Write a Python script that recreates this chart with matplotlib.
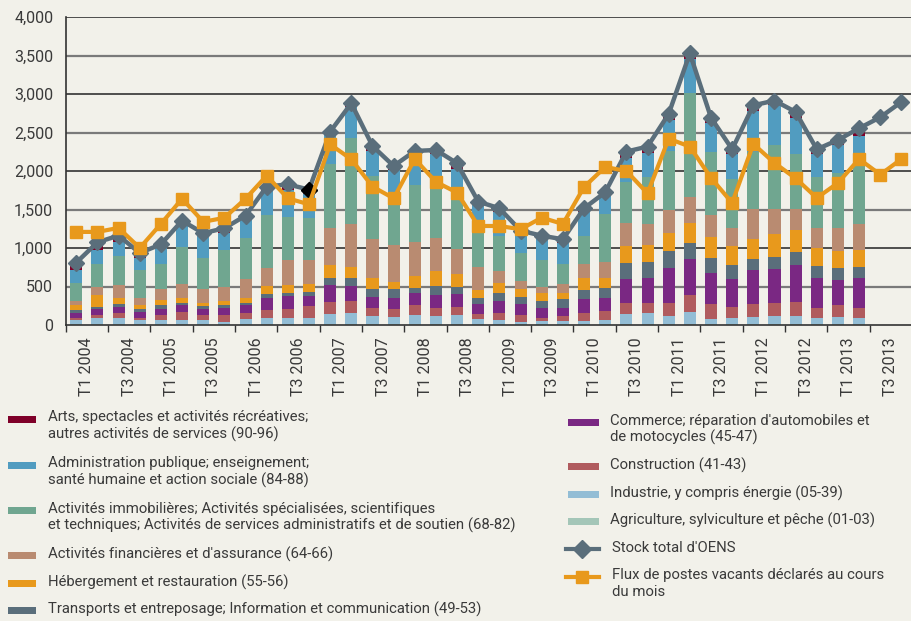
import matplotlib
matplotlib.use("Agg")
import matplotlib.pyplot as plt
from matplotlib.patches import Rectangle
from matplotlib.lines import Line2D
import numpy as np

plt.rcParams['font.family'] = ['Roboto', 'DejaVu Sans']

years = list(range(2004, 2014))
quarters = [f"T{q} {y}" for y in years for q in (1, 2, 3, 4)]
tick_labels = [f"T{q} {y}" for y in years for q in (1, 3)]

agriculture = [8] * 38
industrie = [57, 83, 83, 57, 57, 57, 57, 31, 70, 83, 83, 83, 135, 148, 109, 96,
             122, 109, 122, 70, 57, 31, 44, 44, 44, 57, 135, 148, 109, 161, 70, 83,
             96, 109, 109, 83, 96, 83]
construction = [26, 35, 61, 26, 65, 105, 65, 91, 78, 104, 117, 156, 156, 156, 104, 104,
                130, 104, 104, 65, 91, 91, 39, 65, 104, 117, 143, 130, 169, 221, 195, 143,
                169, 169, 182, 130, 156, 130]
commerce = [70, 78, 78, 79, 79, 91, 79, 92, 108, 156, 169, 130, 220, 194, 143, 143,
            156, 169, 169, 130, 156, 143, 130, 104, 182, 169, 312, 325, 454, 467, 402, 364,
            441, 441, 480, 390, 325, 390]
transports = [35, 26, 44, 39, 52, 26, 43, 39, 17, 52, 39, 52, 91, 104, 104, 117,
              65, 117, 91, 78, 104, 91, 91, 117, 117, 130, 207, 207, 221, 208, 195, 181,
              143, 156, 169, 155, 155, 142]
hebergement = [65, 161, 78, 52, 65, 65, 35, 52, 74, 108, 103, 103, 169, 143, 142, 90,
               156, 194, 168, 108, 130, 104, 104, 78, 156, 130, 221, 221, 234, 260, 273, 247,
               260, 299, 286, 234, 221, 221]
financieres = [52, 100, 165, 96, 144, 183, 183, 183, 238, 234, 325, 312, 485, 563, 507, 481,
               441, 433, 325, 294, 155, 104, 78, 121, 181, 207, 299, 277, 303, 338, 286, 238,
               390, 325, 273, 264, 303, 342]
immobilieres = [235, 305, 383, 361, 326, 483, 404, 483, 541, 684, 559, 546, 827, 1113, 818, 680,
                736, 654, 676, 481, 459, 363, 350, 255, 364, 624, 533, 607, 762, 1351, 818, 633,
                740, 831, 714, 659, 711, 788]
administration = [170, 183, 183, 156, 209, 300, 279, 221, 251, 311, 350, 311, 377, 406, 329, 294,
                  381, 433, 368, 325, 312, 260, 273, 277, 312, 234, 311, 311, 403, 446, 377, 324,
                  533, 520, 468, 298, 363, 351]
arts = [95, 95, 61, 61, 26, 39, 39, 40, 35, 44, 35, 39, 43, 44, 61, 43,
        44, 31, 60, 30, 31, 17, 17, 35, 39, 34, 65, 57, 65, 47, 65, 52,
        65, 39, 65, 52, 65, 87]

stock = [810, 1074, 1161, 935, 1048, 1355, 1192, 1257, 1420, 1797, 1827, 1758, 2511, 2879,
         2325, 2065, 2260, 2273, 2100, 1602, 1516, 1225, 1160, 1113, 1516, 1723, 2252, 2317,
         2741, 3529, 2693, 2282, 2853, 2914, 2767, 2282, 2403, 2555, 2698, 2897]
flux = [1209, 1209, 1261, 1000, 1313, 1640, 1340, 1392, 1640, 1939, 1645, 1567, 2346, 2152,
        1797, 1645, 2156, 1858, 1719, 1286, 1286, 1243, 1394, 1312, 1793, 2052, 2000, 1710,
        2420, 2317, 1910, 1585, 2351, 2104, 1905, 1650, 1845, 2156, 1953, 2156]

series = [
    ("Agriculture, sylviculture et pêche (01-03)", agriculture, "#a4c6b8"),
    ("Industrie, y compris énergie (05-39)", industrie, "#93bdd5"),
    ("Construction (41-43)", construction, "#b05b5e"),
    ("Commerce; réparation d'automobiles et\nde motocycles (45-47)", commerce, "#7a2883"),
    ("Transports et entreposage; Information et communication (49-53)", transports, "#5a6e7b"),
    ("Hébergement et restauration (55-56)", hebergement, "#e8991c"),
    ("Activités financières et d'assurance (64-66)", financieres, "#b98b71"),
    ("Activités immobilières; Activités spécialisées, scientifiques\net techniques; Activités de services administratifs et de soutien (68-82)", immobilieres, "#70a690"),
    ("Administration publique; enseignement;\nsanté humaine et action sociale (84-88)", administration, "#519cc0"),
    ("Arts, spectacles et activités récréatives;\nautres activités de services (90-96)", arts, "#7f0029"),
]

BG = "#f2f1ea"
TXT = "#3a3a3a"
W, H = 912, 621
fig = plt.figure(figsize=(W / 100, H / 100), dpi=100, facecolor=BG)
ax = fig.add_axes([65.7 / W, 1 - 325 / H, (W - 65.7) / W, (325 - 17) / H])
ax.set_facecolor(BG)

nb = len(industrie)
x = np.arange(nb)
bottom = np.zeros(nb)
for name, vals, col in series:
    ax.bar(x, vals, bottom=bottom, width=0.57, color=col, zorder=2, linewidth=0)
    bottom += np.array(vals)

xl = np.arange(len(stock))
ax.plot(xl, stock, color="#5a6e7b", lw=3.2, marker="D", ms=8, zorder=3)
ax.plot([xl[11]], [stock[11]], color="black", marker="D", ms=8, lw=0, zorder=3.5)
ax.plot(xl, flux, color="#e8991c", lw=3, marker="s", ms=8, zorder=4)

ax.set_xlim(-0.5, len(stock) - 0.5)
ax.set_ylim(0, 4000)
yt = np.arange(0, 4001, 500)
ax.set_yticks(yt)
ax.set_yticklabels([f"{v:,}" for v in yt], fontsize=11.5, color=TXT)
ax.tick_params(axis="y", length=0, pad=9)
for v in yt[1:]:
    if v % 1000 == 0:
        ax.axhline(v, color="#333333", lw=1.2, zorder=1)
    else:
        ax.axhline(v, color="#7a7a7a", lw=1.6, zorder=1)

ax.set_xticks(np.arange(0, len(stock), 2) + 0.5)
ax.set_xticklabels(tick_labels, rotation=90, fontsize=11.5, color=TXT, va="top", ha="center")
ax.tick_params(axis="x", which="major", length=0, pad=9)
ax.set_xticks(np.arange(0, len(stock), 2) - 0.5, minor=True)
ax.tick_params(axis="x", which="minor", length=5, width=1, color="#333333")

for s in ["top", "right"]:
    ax.spines[s].set_visible(False)
for s in ["left", "bottom"]:
    ax.spines[s].set_color("#333333")
    ax.spines[s].set_linewidth(1.2)

# legend (manual, figure pixel coordinates)
def fx(px):
    return px / W

def fy(py):
    return 1 - py / H

FS = 10.7
cols = {name: col for name, _, col in series}
names = [s[0] for s in series]
left_items = [(names[9], 419), (names[8], 465), (names[7], 510), (names[6], 555), (names[5], 583), (names[4], 610)]
right_items = [(names[3], 422), (names[2], 466), (names[1], 494), (names[0], 521)]

for name, py in left_items:
    fig.patches.append(Rectangle((fx(8), fy(py + 3.5)), 28 / W, 7 / H, transform=fig.transFigure,
                                 facecolor=cols[name], edgecolor="none"))
    fig.text(fx(48), fy(py - 8.5), name, fontsize=FS, color=TXT, va="top", ha="left", linespacing=1.2)

for name, py in right_items:
    fig.patches.append(Rectangle((fx(568), fy(py + 3.5)), 31 / W, 7 / H, transform=fig.transFigure,
                                 facecolor=cols[name], edgecolor="none"))
    fig.text(fx(610), fy(py - 8.5), name, fontsize=FS, color=TXT, va="top", ha="left", linespacing=1.2)

fig.lines.append(Line2D([fx(566), fx(599)], [fy(549), fy(549)], transform=fig.transFigure,
                        color="#5a6e7b", lw=3))
fig.lines.append(Line2D([fx(582.5)], [fy(549)], transform=fig.transFigure,
                        color="#5a6e7b", marker="D", ms=9, lw=0))
fig.lines.append(Line2D([fx(566), fx(599)], [fy(577), fy(577)], transform=fig.transFigure,
                        color="#e8991c", lw=3))
fig.lines.append(Line2D([fx(582.5)], [fy(577)], transform=fig.transFigure,
                        color="#e8991c", marker="s", ms=8, lw=0))
fig.text(fx(612), fy(549 - 8.5), "Stock total d'OENS", fontsize=FS, color=TXT, va="top", ha="left")
fig.text(fx(612), fy(577 - 8.5), "Flux de postes vacants déclarés au cours\ndu mois", fontsize=FS,
         color=TXT, va="top", ha="left", linespacing=1.2)

fig.savefig("out.png", dpi=100, facecolor=BG)
